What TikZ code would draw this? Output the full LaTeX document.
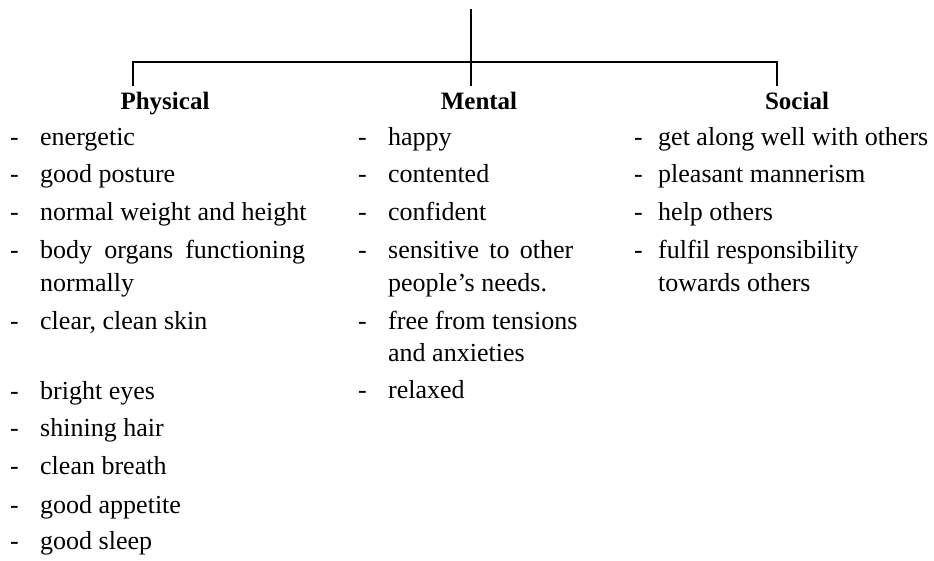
\documentclass[tikz,border=0pt]{standalone}
\usepackage{fontspec}
\setmainfont{Liberation Serif}
\begin{document}
\begin{tikzpicture}[x=1pt,y=-1pt,
  item/.style={anchor=base west,inner sep=0pt,font=\fontsize{26}{30}\selectfont},
  bullet/.style={item},
  head/.style={anchor=base,inner sep=0pt,font=\fontsize{25}{30}\selectfont\bfseries},
  tree/.style={line width=2.4pt}]
\useasboundingbox (0,0) rectangle (934,561);

% tree
\coordinate (top) at (471,9);
\coordinate (bar) at (471,62);
\coordinate (pd) at (133,86);
\coordinate (md) at (471,86);
\coordinate (sd) at (777,86);
\draw[tree] (top) -- (md);
\draw[tree] (pd) -- (pd |- bar) -- (sd |- bar) -- (sd);

% headings
\node[head] (phys) at (165,110) {Physical};
\node[head] (ment) at (479,110) {Mental};
\node[head] (soc)  at (797,110) {Social};

% Physical column
\foreach \y [count=\i] in {146,183,221,259,329,399,436,474,513,549}
  \node[bullet] (pdash\i) at (10,\y) {-};
\node[item] (p1) at (40,146) {energetic};
\node[item] (p2) at (40,183) {good posture};
\node[item] (p3) at (40,221) {normal weight and height};
\node[item] (p4) at (40,259) {\makebox[265pt][s]{body organs functioning}};
\node[item] (p4b) at (40,291) {normally};
\node[item] (p5) at (40,329) {clear, clean skin};
\node[item] (p6) at (40,399) {bright eyes};
\node[item] (p7) at (40,436) {shining hair};
\node[item] (p8) at (40,474) {clean breath};
\node[item] (p9) at (40,513) {good appetite};
\node[item] (p10) at (40,549) {good sleep};

% Mental column
\foreach \y [count=\i] in {146,183,221,259,329,398}
  \node[bullet] (mdash\i) at (358,\y) {-};
\node[item] (m1) at (388,146) {happy};
\node[item] (m2) at (388,183) {contented};
\node[item] (m3) at (388,221) {confident};
\node[item] (m4) at (388,259) {\makebox[185pt][s]{sensitive to other}};
\node[item] (m4b) at (388,291) {people’s needs.};
\node[item] (m5) at (388,329) {free from tensions};
\node[item] (m5b) at (388,361) {and anxieties};
\node[item] (m6) at (388,398) {relaxed};

% Social column
\foreach \y [count=\i] in {146,183,221,259}
  \node[bullet] (sdash\i) at (634,\y) {-};
\node[item] (s1) at (658,146) {get along well with others};
\node[item] (s2) at (658,183) {pleasant mannerism};
\node[item] (s3) at (658,221) {help others};
\node[item] (s4) at (658,259) {fulfil responsibility};
\node[item] (s4b) at (658,291) {towards others};
\end{tikzpicture}
\end{document}
